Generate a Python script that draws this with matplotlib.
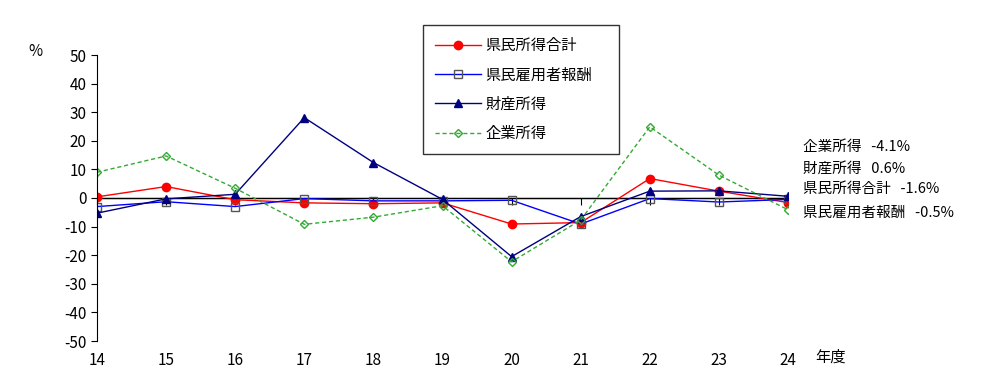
import matplotlib
matplotlib.use("Agg")
import matplotlib.pyplot as plt

plt.rcParams['font.family'] = ['Noto Sans CJK JP', 'DejaVu Sans']
plt.rcParams['axes.unicode_minus'] = False

years = [14, 15, 16, 17, 18, 19, 20, 21, 22, 23, 24]
kenmin_shotoku = [0.4, 4.0, -0.6, -1.7, -2.0, -1.7, -9.1, -8.6, 6.8, 2.4, -1.6]
koyosha_hoshu = [-3.0, -1.3, -3.0, -0.2, -1.0, -1.0, -0.8, -9.1, -0.2, -1.4, -0.5]
zaisan_shotoku = [-5.3, -0.3, 1.3, 28.1, 12.4, -0.5, -20.5, -6.5, 2.4, 2.5, 0.6]
kigyo_shotoku = [9.0, 14.7, 3.4, -9.2, -6.7, -2.7, -22.3, -7.7, 24.9, 8.0, -4.1]

names = ['県民所得合計', '県民雇用者報酬', '財産所得', '企業所得']
last_labels = ['企業所得   -4.1%', '財産所得   0.6%', '県民所得合計   -1.6%', '県民雇用者報酬   -0.5%']

fig = plt.figure(figsize=(9.93, 3.76), dpi=100)
ax = fig.add_axes([97 / 993, 35 / 376, 691 / 993, 286 / 376])

ax.plot(years, kenmin_shotoku, color='red', lw=1, marker='o', ms=6,
        mfc='red', mec='red', label=names[0])
ax.plot(years, koyosha_hoshu, color='blue', lw=1, marker='s', ms=6,
        mfc='none', mec='#555555', label=names[1])
ax.plot(years, zaisan_shotoku, color='#000080', lw=1, marker='^', ms=6,
        mfc='#000080', mec='#000080', label=names[2])
ax.plot(years, kigyo_shotoku, color='#33aa33', lw=1, ls=(0, (3, 2)), marker='D', ms=4,
        mfc='none', mec='#33aa33', label=names[3])

ax.axhline(0, color='black', lw=1, zorder=1)

ax.set_xlim(years[0], years[-1])
ax.set_ylim(-50, 50)
ax.set_yticks(range(-50, 51, 10))
ax.set_xticks(years)
ax.tick_params(axis='y', direction='out', length=4, labelsize=11)
ax.tick_params(axis='x', length=0, labelsize=11, pad=8)

for s in ['top', 'right', 'bottom']:
    ax.spines[s].set_visible(False)

sec = ax.secondary_xaxis(0.5)
sec.set_xticks(years)
sec.set_xticklabels([])
sec.tick_params(direction='in', length=5, labelbottom=False, labeltop=False)
sec.spines['bottom'].set_visible(False)

fig.text(35 / 993, 1 - 52 / 376, '%', fontsize=11, ha='center', va='center')
fig.text(830 / 993, 1 - 357 / 376, '年度', fontsize=11, ha='center', va='center')

leg = fig.legend(loc='upper left',
                 bbox_to_anchor=(423 / 993, 1 - 155 / 376, 196 / 993, 130 / 376),
                 mode='expand', frameon=True, fancybox=False, edgecolor='black',
                 fontsize=11, handlelength=3.0, handletextpad=0.3,
                 labelspacing=0.8, borderpad=0.8, borderaxespad=0)
leg.get_frame().set_linewidth(1)

ys = [147, 169, 189, 213]
for lab, y in zip(last_labels, ys):
    fig.text(803 / 993, 1 - y / 376, lab, fontsize=10.5, ha='left', va='center')

fig.savefig('out.png', dpi=100)
